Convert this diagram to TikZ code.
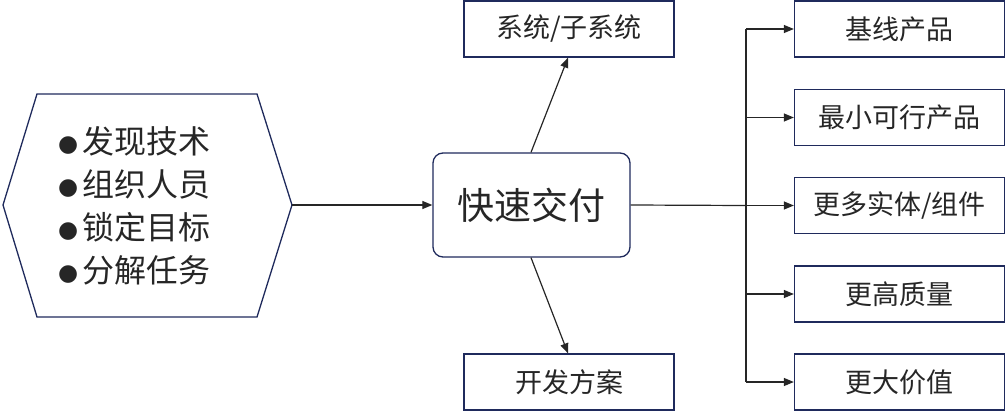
\documentclass[tikz,border=0pt]{standalone}
\usepackage{fontspec}
\setmainfont{Noto Sans CJK SC}
\newfontfamily\dejavu{DejaVu Sans}
\usetikzlibrary{arrows.meta}
\definecolor{navy}{HTML}{1F2A5C}
\definecolor{txt}{HTML}{262626}
\definecolor{ln}{HTML}{262626}
\newcommand{\bul}{\raisebox{2pt}{\dejavu\fontsize{23}{23}\selectfont ●}\hspace{4pt}}
\tikzset{
  box/.style={draw=navy, line width=1.3pt, minimum width=210pt, minimum height=56pt, inner sep=0pt, text=txt, font=\fontsize{27}{30}\selectfont},
  center/.style={draw=navy, line width=1.3pt, rounded corners=10pt, minimum width=197pt, minimum height=104pt, inner sep=0pt, text=txt, font=\fontsize{37}{40}\selectfont},
  arr/.style={draw=ln, line width=1.2pt, -{Triangle[length=10pt,width=8pt]}},
  plain/.style={draw=ln, line width=1.2pt}
}
\begin{document}
\begin{tikzpicture}[x=1pt,y=-1pt]
\useasboundingbox (0,0) rectangle (1006,412);
% hexagon
\draw[navy, line width=1.3pt] (3,205) -- (37,94) -- (257,94) -- (292,205) -- (257,317) -- (37,317) -- cycle;
\coordinate (hexR) at (292,205);
\node[text=txt, align=left, font=\fontsize{32}{43}\selectfont, anchor=west, inner sep=0pt] (list) at (58,206)
  {\bul 发现技术\\ \bul 组织人员\\ \bul 锁定目标\\ \bul 分解任务};
% center
\node[center] (fd) at (531.5,205) {快速交付};
% top and bottom
\node[box] (sys) at (569,29) {系统/子系统};
\node[box] (plan) at (569,382) {开发方案};
% right
\node[box] (r1) at (899.5,29) {基线产品};
\node[box] (r2) at (899.5,117.5) {最小可行产品};
\node[box] (r3) at (899.5,205.5) {更多实体/组件};
\node[box] (r4) at (899.5,294) {更高质量};
\node[box] (r5) at (899.5,382) {更大价值};
% connectors
\draw[arr] (hexR) -- (fd.west);
\draw[arr] ([xshift=-0.5pt]fd.north) -- ([xshift=-1pt]sys.south);
\draw[arr] ([xshift=-0.5pt]fd.south) -- ([xshift=-1pt]plan.north);
\coordinate (bus) at (746,205.5);
\coordinate (bt) at (746,29);
\coordinate (bb) at (746,382);
\draw[plain] (fd.east) -- (bus);
\draw[plain] (bt) -- (bb);
\draw[arr] (bt) -- (r1.west);
\draw[arr] (746,117.5) -- (r2.west);
\draw[arr] (bus) -- (r3.west);
\draw[arr] (746,294) -- (r4.west);
\draw[arr] (bb) -- (r5.west);
\end{tikzpicture}
\end{document}
